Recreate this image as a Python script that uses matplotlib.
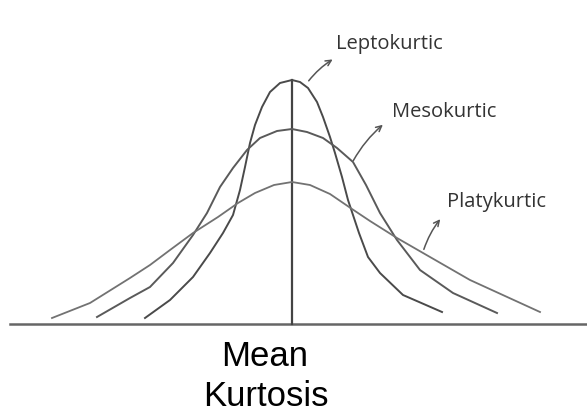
import matplotlib
matplotlib.use("Agg")
import matplotlib.pyplot as plt

# points: offset from the mean, height above the baseline
lepto_x = [-147, -122, -99, -82, -69, -59, -52, -47, -42, -37, -30, -22, -12, 0,
           8, 16, 25, 31, 38, 43, 50, 56, 61, 67, 76, 88, 111, 150]
lepto_y = [7, 25, 48, 72, 92, 110, 135, 158, 182, 200, 218, 233, 242, 245,
           243, 237, 223, 208, 188, 172, 148, 125, 110, 92, 68, 52, 30, 13]

meso_x = [-195, -162, -142, -119, -99, -85, -72, -59, -45, -32, -15, 0,
          15, 31, 45, 61, 74, 88, 105, 128, 161, 205]
meso_y = [8, 27, 38, 62, 90, 112, 138, 157, 175, 187, 194, 196,
          193, 187, 177, 163, 140, 112, 85, 55, 32, 12]

platy_x = [-240, -202, -162, -142, -122, -99, -74, -54, -37, -18, 0,
           18, 38, 60, 78, 105, 138, 178, 248]
platy_y = [7, 22, 47, 60, 75, 92, 108, 122, 132, 140, 143,
           140, 131, 116, 104, 87, 68, 45, 13]

labels = ["Leptokurtic", "Mesokurtic", "Platykurtic"]
arrow_from = [(15, 242), (60, 162), (131, 73)]
arrow_to = [(43, 267), (93, 202), (150, 108)]
label_pos = [(44, 281), (100, 213), (155, 123)]

fig = plt.figure(figsize=(5.87, 4.17), dpi=100)
ax = fig.add_axes([0, 0, 1, 1])
ax.set_xlim(-292, 295)
ax.set_ylim(-92, 325)
ax.axis("off")

# baseline and mean line
ax.plot([-282, 295], [1, 1], color="#666666", lw=1.8)
ax.plot([0, 0], [1, 245], color="#444444", lw=1.6)

ax.plot(lepto_x, lepto_y, color="#4a4a4a", lw=1.4, solid_joinstyle="round")
ax.plot(meso_x, meso_y, color="#5a5a5a", lw=1.4, solid_joinstyle="round")
ax.plot(platy_x, platy_y, color="#727272", lw=1.3, solid_joinstyle="round")

for name, a, b, p in zip(labels, arrow_from, arrow_to, label_pos):
    ax.annotate("", xy=b, xytext=a,
                arrowprops=dict(arrowstyle="->", color="#555555", lw=1.1,
                                connectionstyle="arc3,rad=-0.1"))
    ax.text(p[0], p[1], name, fontsize=14.5, family="Open Sans", color="#333333",
            ha="left", va="center")

ax.text(-27, -32, "Mean", fontsize=25, family="Liberation Sans", ha="center", va="center")
ax.text(-26, -72, "Kurtosis", fontsize=25, family="Liberation Sans", ha="center", va="center")

fig.savefig("out.png", dpi=100)
